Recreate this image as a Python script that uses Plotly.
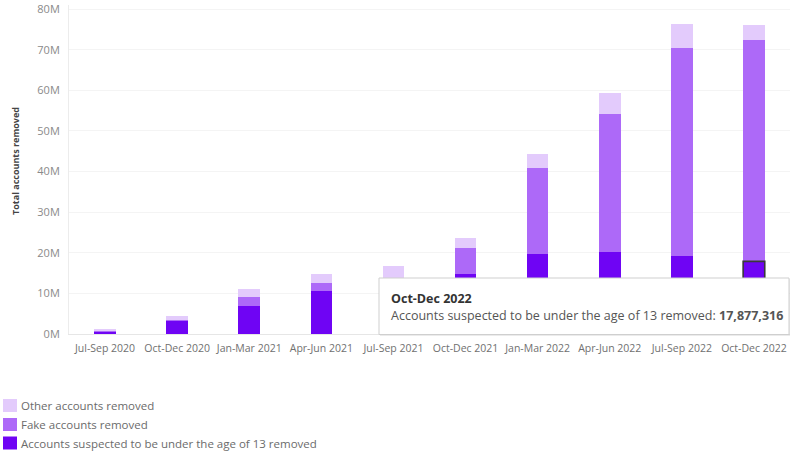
import plotly.graph_objects as go

# ---------------- data ----------------
quarters = ["Jul-Sep 2020", "Oct-Dec 2020", "Jan-Mar 2021", "Apr-Jun 2021", "Jul-Sep 2021",
            "Oct-Dec 2021", "Jan-Mar 2022", "Apr-Jun 2022", "Jul-Sep 2022", "Oct-Dec 2022"]
under13 = [0.6e6, 3.3e6, 6.9e6, 10.7e6, 12.0e6, 14.8e6, 19.8e6, 20.1e6, 19.1e6, 17877316]
fake = [0.2e6, 0.1e6, 2.2e6, 1.8e6, 1.0e6, 6.4e6, 21.0e6, 34.0e6, 51.4e6, 54.4e6]
other = [0.5e6, 1.0e6, 1.9e6, 2.2e6, 3.7e6, 2.5e6, 3.4e6, 5.2e6, 5.9e6, 3.9e6]
y_ticks = [0, 10e6, 20e6, 30e6, 40e6, 50e6, 60e6, 70e6, 80e6]
y_tick_labels = ["0M", "10M", "20M", "30M", "40M", "50M", "60M", "70M", "80M"]

series_names = ["Accounts suspected to be under the age of 13 removed",
                "Fake accounts removed", "Other accounts removed"]
colors = ["#6F04F4", "#AD69F8", "#E3CBFC"]

# ---------------- layout geometry ----------------
W, H = 790, 452
ML, MR, MT, MB = 69, 0, 5, 118
PH = H - MT - MB
PW = W - ML - MR
BAR_FRAC = 0.3

def px_x(x):
    return (x - ML) / PW

def px_y(y):
    return (H - MB - y) / PH

FONT = "Open Sans"
TXT = "#6b6b6b"

fig = go.Figure()
for name, vals, col in zip(series_names, [under13, fake, other], colors):
    fig.add_trace(go.Bar(
        x=quarters, y=vals, name=name, marker_color=col,
        marker_line=dict(width=0), showlegend=False,
    ))

shapes = []
annotations = []

# highlighted (hovered) mark outline, from the data of the last quarter
hi = len(quarters) - 1
shapes.append(dict(type="rect", xref="x", yref="y",
                   x0=hi - BAR_FRAC / 2, x1=hi + BAR_FRAC / 2, y0=0, y1=under13[hi],
                   line=dict(width=1.6, color="#3a3a3a"), fillcolor="rgba(0,0,0,0)",
                   layer="above"))

# tooltip box (with soft shadow)
tx0, tx1, ty0, ty1 = 379, 789, 278, 334.5
shapes.append(dict(type="rect", xref="paper", yref="paper",
                   x0=px_x(tx0 + 1), x1=px_x(tx1 + 1), y0=px_y(ty1 + 1.5), y1=px_y(ty0 + 1),
                   fillcolor="rgba(0,0,0,0.08)", line=dict(width=0), layer="above"))
shapes.append(dict(type="rect", xref="paper", yref="paper",
                   x0=px_x(tx0), x1=px_x(tx1), y0=px_y(ty1), y1=px_y(ty0),
                   fillcolor="white", line=dict(width=1, color="#cfcfcf"), layer="above"))
annotations.append(dict(xref="paper", yref="paper", x=px_x(389), y=px_y(298),
                        xanchor="left", yanchor="middle", showarrow=False,
                        text="<b>" + quarters[hi] + "</b>",
                        font=dict(family=FONT, size=12.5, color="#333333")))
annotations.append(dict(xref="paper", yref="paper", x=px_x(389), y=px_y(315),
                        xanchor="left", yanchor="middle", showarrow=False,
                        text=series_names[0] + ": <b>" + f"{under13[hi]:,}" + "</b>",
                        font=dict(family=FONT, size=12.5, color="#555555")))

# custom legend (top to bottom: other, fake, under13)
leg_y = [405.5, 424.5, 443]
for yy, name, col in zip(leg_y, series_names[::-1], colors[::-1]):
    shapes.append(dict(type="rect", xref="paper", yref="paper",
                       x0=px_x(3), x1=px_x(17), y0=px_y(yy + 6.5), y1=px_y(yy - 6.5),
                       fillcolor=col, line=dict(width=0)))
    annotations.append(dict(xref="paper", yref="paper", x=px_x(19), y=px_y(yy),
                            xanchor="left", yanchor="middle", showarrow=False,
                            text=name, font=dict(family=FONT, size=11.5, color=TXT)))

# y axis title
annotations.append(dict(xref="paper", yref="paper", x=px_x(16), y=px_y(161),
                        xanchor="center", yanchor="middle", showarrow=False, textangle=-90,
                        text="<b>Total accounts removed</b>",
                        font=dict(family=FONT, size=9, color="#444444")))

fig.update_layout(
    width=W, height=H,
    margin=dict(l=ML, r=MR, t=MT, b=MB),
    barmode="stack", bargap=1 - BAR_FRAC,
    plot_bgcolor="white", paper_bgcolor="white",
    font=dict(family=FONT, color=TXT),
    shapes=shapes, annotations=annotations,
    xaxis=dict(showgrid=False, showline=True, linecolor="#e6e6e6", linewidth=1,
               ticks="", ticklabelstandoff=4,
               tickfont=dict(size=10.5, color="#707070"), fixedrange=True),
    yaxis=dict(range=[0, 81e6], tickvals=y_ticks, ticktext=y_tick_labels,
               showgrid=True, gridcolor="#f4f4f4", gridwidth=1,
               zeroline=True, zerolinecolor="#e6e6e6", zerolinewidth=1,
               showline=True, linecolor="#ececec", linewidth=1,
               ticks="", ticklabelstandoff=6,
               tickfont=dict(size=11, color="#8a8a8a")),
)

fig.write_html("out.html")
